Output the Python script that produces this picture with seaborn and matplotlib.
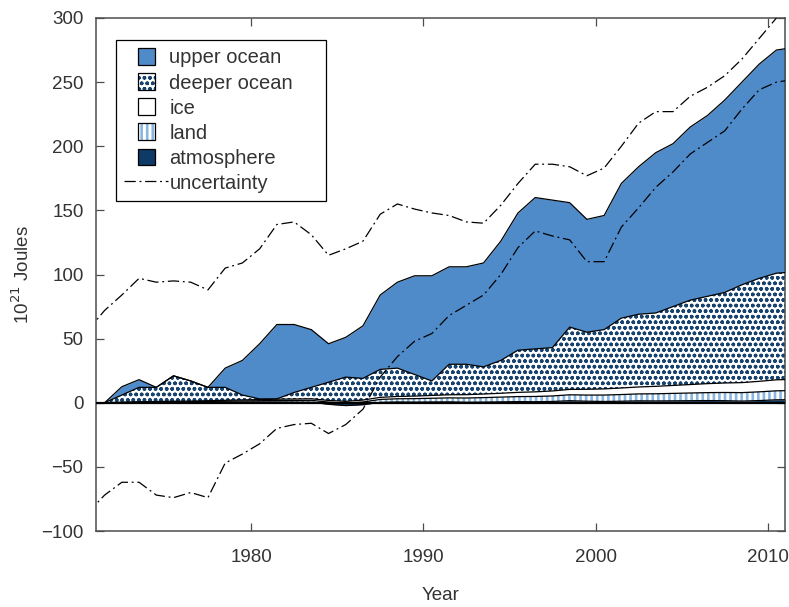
import numpy as np
import pandas as pd
import matplotlib
matplotlib.use("Agg")
import matplotlib.pyplot as plt
from matplotlib.patches import Patch, Rectangle
from matplotlib.lines import Line2D
import seaborn as sns

# Energy accumulation components, 10^21 J, annual mid-year values
years = np.arange(1970.5, 2012.0, 1.0)

atmosphere = [0, 0, 0.1, 0.2, 0.3, 0.3, 0.2, 0.3, 0.4, 0.5, 0.6, 0.6, 0.5, 0.4,
              -1.2, -2.2, -1.5, 0.3, 0.6, 0.5, 0.6, 0.7, 0.4, 0.5, 0.7, 0.9, 0.8,
              1.0, 1.6, 1.2, 1.0, 1.2, 1.5, 1.4, 1.5, 1.6, 1.7, 1.6, 1.3, 1.7, 2.3, 2.4]
land = [0, 0, 0.2, 0.3, 0.4, 0.5, 0.6, 0.7, 0.8, 0.9, 1.0, 1.2, 1.3, 1.5, 1.7, 1.9,
        2.1, 2.3, 2.5, 2.7, 2.9, 3.1, 3.3, 3.5, 3.7, 3.9, 4.1, 4.3, 4.6, 4.8, 5.0,
        5.2, 5.4, 5.6, 5.8, 6.0, 6.2, 6.4, 6.6, 6.8, 7.0, 7.1]
ice = [0, 0, 0.1, 0.2, 0.3, 0.4, 0.5, 0.6, 0.7, 0.8, 0.9, 1.0, 1.1, 1.2, 1.3, 1.4,
       1.5, 1.6, 1.8, 2.0, 2.2, 2.4, 2.6, 2.8, 3.0, 3.3, 3.6, 3.9, 4.2, 4.5, 4.8,
       5.1, 5.4, 5.8, 6.2, 6.6, 7.0, 7.4, 7.8, 8.2, 8.6, 8.7]
deeper_ocean = [0, 0, 5.6, 11.3, 11.0, 19.8, 15.7, 10.4, 10.1, 3.8, 0.5, 0.2, 5.1,
                8.9, 14.2, 18.9, 16.9, 21.8, 22.1, 16.8, 11.3, 23.8, 23.7, 21.2,
                25.6, 32.9, 33.5, 33.8, 48.6, 44.5, 46.2, 54.5, 56.7, 57.2, 61.5,
                65.8, 68.1, 70.6, 76.3, 80.3, 83.1, 83.8]
upper_ocean = [0, 0, 6.5, 6, 0, 0, 0, 0, 15, 27, 43, 58, 53, 45, 30, 31, 41, 58,
               67, 77, 82, 76, 76, 81, 93, 107, 118, 115, 97, 88, 89, 105, 115,
               125, 127, 135, 141, 150, 158, 167, 174, 175]

# Uncertainty envelope of the total
uncertainty_upper = [56, 72, 84, 97, 94, 95, 94, 88, 105, 109, 120, 139, 141, 131,
                     115, 120, 126, 147, 155, 151, 148, 146, 141, 140, 154, 171,
                     186, 186, 184, 177, 183, 200, 218, 227, 227, 239, 246, 255,
                     268, 284, 300, 312]
uncertainty_lower = [-86, -72, -62, -62, -72, -74, -70, -74, -47, -40, -32, -20,
                     -17, -16, -24, -17, -5, 20, 36, 48, 54, 68, 76, 84, 100, 121,
                     134, 130, 127, 110, 110, 137, 152, 168, 180, 194, 203, 212,
                     229, 244, 250, 252]

x_ticks = [1980, 1990, 2000, 2010]
y_ticks = [-100, -50, 0, 50, 100, 150, 200, 250, 300]

sns.set_style("ticks")
plt.rcParams["font.family"] = ["Liberation Sans", "DejaVu Sans"]
plt.rcParams["text.color"] = "#333333"
plt.rcParams["hatch.linewidth"] = 1.0

df = pd.DataFrame({
    "year": years,
    "atmosphere": atmosphere,
    "land": land,
    "ice": ice,
    "deeper ocean": deeper_ocean,
    "upper ocean": upper_ocean,
    "unc_hi": uncertainty_upper,
    "unc_lo": uncertainty_lower,
})

order = ["atmosphere", "land", "ice", "deeper ocean", "upper ocean"]
tops = df[order].cumsum(axis=1)
bottoms = tops.shift(1, axis=1).fillna(0.0)

c_upper = "#4f8ac9"
c_dots = "#17436e"
c_stripes = "#8ab6e2"
c_atmos = "#0d3a66"

styles = {
    "upper ocean": dict(face=c_upper, hatch_color=c_upper, hatch=None, hlw=1.0),
    "deeper ocean": dict(face="white", hatch_color=c_dots, hatch="ooo", hlw=1.05),
    "ice": dict(face="white", hatch_color="white", hatch=None, hlw=1.0),
    "land": dict(face="white", hatch_color=c_stripes, hatch="|||", hlw=1.9),
    "atmosphere": dict(face=c_atmos, hatch_color=c_atmos, hatch=None, hlw=1.0),
}


def set_hlw(artist, value):
    if hasattr(artist, "set_hatch_linewidth"):
        artist.set_hatch_linewidth(value)


fig = plt.figure(figsize=(7.89, 6.07), dpi=100)
ax = fig.add_axes([96 / 789, 1 - 531 / 607, 689 / 789, 513 / 607])

# stacked fills, upper ocean first so the deeper layer covers any overlap
for name in ["upper ocean", "deeper ocean", "ice", "land", "atmosphere"]:
    st = styles[name]
    with plt.rc_context({"hatch.linewidth": st["hlw"]}):
        coll = ax.fill_between(df["year"], bottoms[name], tops[name],
                               facecolor=st["face"], edgecolor=st["hatch_color"],
                               hatch=st["hatch"], linewidth=0, zorder=2)
    set_hlw(coll, st["hlw"])

# layer boundaries
for name in order:
    sns.lineplot(x=df["year"], y=tops[name], ax=ax, color="black",
                 linewidth=0.9, zorder=3, errorbar=None)

ax.axhline(0, color="black", linewidth=1.6, zorder=4)

dash = (0, (9, 3, 1.5, 3))
sns.lineplot(data=df, x="year", y="unc_hi", ax=ax, color="black", linewidth=0.9,
             linestyle=dash, zorder=5, errorbar=None)
sns.lineplot(data=df, x="year", y="unc_lo", ax=ax, color="black", linewidth=0.9,
             linestyle=dash, zorder=5, errorbar=None)

ax.set_xlim(1971, 2011)
ax.set_ylim(-100, 300)
ax.set_xticks(x_ticks)
ax.set_yticks(y_ticks)
ax.tick_params(direction="in", top=True, right=True, length=6, width=0.9,
               color="#4d4d4d", labelcolor="#333333", labelsize=13.5)
ax.tick_params(axis="x", pad=13)
ax.tick_params(axis="y", pad=9)
for sp in ax.spines.values():
    sp.set_color("#4d4d4d")
    sp.set_linewidth(1.1)

ax.set_xlabel("Year", fontsize=13.5, color="#333333", labelpad=15)
ax.set_ylabel("10$^{21}$ Joules", fontsize=13.5, color="#333333", labelpad=6)


class SquareSwatch:
    """Legend handler drawing a centred square swatch with a black outline."""

    def __init__(self, hlw):
        self.hlw = hlw

    def legend_artist(self, legend, orig_handle, fontsize, handlebox):
        x0, y0 = -handlebox.xdescent, -handlebox.ydescent
        w, h = handlebox.width, handlebox.height
        s = h
        xs = x0 + (w - s) / 2
        with plt.rc_context({"hatch.linewidth": self.hlw}):
            inner = Rectangle((xs, y0), s, s, facecolor=orig_handle.get_facecolor(),
                              edgecolor=orig_handle.get_edgecolor(),
                              hatch=orig_handle.get_hatch(), linewidth=0,
                              transform=handlebox.get_transform())
        set_hlw(inner, self.hlw)
        outline = Rectangle((xs, y0), s, s, facecolor="none", edgecolor="black",
                            linewidth=0.9, transform=handlebox.get_transform())
        handlebox.add_artist(inner)
        handlebox.add_artist(outline)
        return outline


labels = ["upper ocean", "deeper ocean", "ice", "land", "atmosphere", "uncertainty"]
handles = []
handler_map = {}
for name in labels[:5]:
    st = styles[name]
    p = Patch(facecolor=st["face"], edgecolor=st["hatch_color"], hatch=st["hatch"])
    handles.append(p)
    handler_map[p] = SquareSwatch(st["hlw"])
handles.append(Line2D([], [], color="black", linewidth=0.9, linestyle=dash))

leg_w, leg_h = 210 / 689, 159 / 513
leg = ax.legend(handles, labels, handler_map=handler_map, loc="upper left",
                bbox_to_anchor=(20 / 689, 1 - 22 / 513 - leg_h, leg_w, leg_h),
                mode="expand", borderaxespad=0,
                fontsize=14.5, frameon=True, fancybox=False, framealpha=1,
                edgecolor="black", handlelength=2.2, handleheight=0.9,
                labelspacing=0.29, handletextpad=0.05, borderpad=0.4)
leg.get_frame().set_linewidth(0.9)
for t in leg.get_texts():
    t.set_color("#333333")

fig.savefig("out.png", dpi=100)
